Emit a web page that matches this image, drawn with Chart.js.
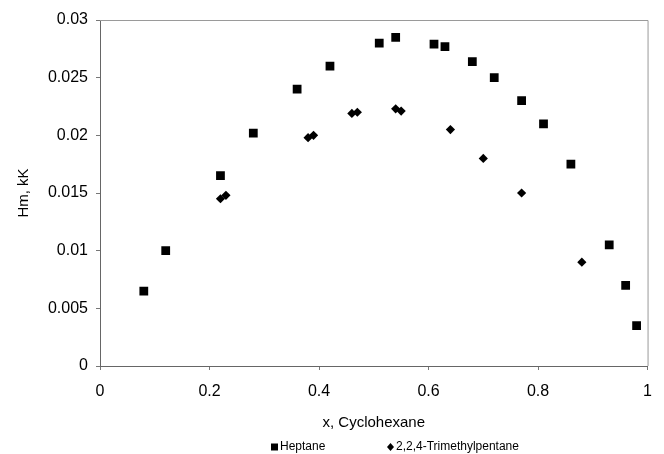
<!DOCTYPE html>
<html>
<head>
<meta charset="utf-8">
<script src="https://cdn.jsdelivr.net/npm/chart.js@4.4.1/dist/chart.umd.min.js"></script>
<style>
  html, body { margin: 0; padding: 0; background: #fff; }
  #wrap { width: 664px; height: 454px; }
</style>
</head>
<body>
<div id="wrap"><canvas id="myChart" width="664" height="454"></canvas></div>
<script>
// mole fraction of cyclohexane
const heptaneX = [0.08, 0.12, 0.22, 0.28, 0.36, 0.42, 0.51, 0.54, 0.61, 0.63, 0.68, 0.72, 0.77, 0.81, 0.86, 0.93, 0.96, 0.98];
const heptaneY = [0.0065, 0.0100, 0.0165, 0.0202, 0.0240, 0.0260, 0.0280, 0.0285, 0.0279, 0.0277, 0.0264, 0.0250, 0.0230, 0.0210, 0.0175, 0.0105, 0.0070, 0.0035];
const tmpX = [0.22, 0.23, 0.38, 0.39, 0.46, 0.47, 0.54, 0.55, 0.64, 0.70, 0.77, 0.88];
const tmpY = [0.0145, 0.0148, 0.0198, 0.0200, 0.0219, 0.0220, 0.0223, 0.0221, 0.0205, 0.0180, 0.0150, 0.0090];

const xTicks = ["0", "0.2", "0.4", "0.6", "0.8", "1"];
const yTicks = ["0", "0.005", "0.01", "0.015", "0.02", "0.025", "0.03"];
const seriesNames = ["Heptane", "2,2,4-Trimethylpentane"];

function pares(xs, ys) {
  return xs.map((x, i) => ({ x: x, y: ys[i] }));
}

const fuente = "'Liberation Sans', Arial, sans-serif";

// marco gris alrededor del area y leyenda abajo
const marco = {
  id: 'marco',
  afterDraw(chart) {
    const ctx = chart.ctx;
    const a = chart.chartArea;
    ctx.save();
    ctx.strokeStyle = '#9a9a9a';
    ctx.lineWidth = 1;
    ctx.beginPath();
    ctx.moveTo(a.left, a.top + 0.5);
    ctx.lineTo(a.right + 0.5, a.top + 0.5);
    ctx.lineTo(a.right + 0.5, a.bottom);
    ctx.stroke();

    // leyenda
    const yLeg = 447;
    const posX = [271, 387];
    ctx.font = '12px ' + fuente;
    ctx.fillStyle = '#000';
    ctx.textBaseline = 'middle';
    chart.data.datasets.forEach((ds, i) => {
      const x = posX[i];
      ctx.beginPath();
      if (ds.pointStyle === 'rect') {
        ctx.rect(x, yLeg - 3.5, 7, 7);
      } else {
        ctx.moveTo(x, yLeg);
        ctx.lineTo(x + 3.5, yLeg - 4);
        ctx.lineTo(x + 7, yLeg);
        ctx.lineTo(x + 3.5, yLeg + 4);
        ctx.closePath();
      }
      ctx.fill();
      ctx.fillText(ds.label, x + 9, yLeg);
    });
    ctx.restore();
  }
};

new Chart("myChart", {
  type: "scatter",
  data: {
    datasets: [{
      label: seriesNames[0],
      data: pares(heptaneX, heptaneY),
      pointStyle: 'rect',
      pointRadius: 6.2,
      pointHoverRadius: 6.2,
      backgroundColor: '#000',
      borderWidth: 0
    }, {
      label: seriesNames[1],
      data: pares(tmpX, tmpY),
      pointStyle: 'rectRot',
      pointRadius: 4.6,
      pointHoverRadius: 4.6,
      backgroundColor: '#000',
      borderWidth: 0
    }]
  },
  options: {
    responsive: false,
    animation: false,
    layout: { padding: { top: 20, right: 12, bottom: 22, left: 0 } },
    plugins: {
      legend: { display: false },
      tooltip: { enabled: false }
    },
    scales: {
      x: {
        type: 'linear',
        min: 0,
        max: 1,
        afterBuildTicks: (s) => { s.ticks = xTicks.map(t => ({ value: parseFloat(t) })); },
        afterFit: (s) => { s.height = 66; },
        ticks: {
          padding: 12,
          color: '#000',
          font: { size: 16, family: fuente },
          maxRotation: 0,
          callback: (v, i) => xTicks[i]
        },
        grid: { drawOnChartArea: false, drawTicks: true, tickLength: 4, color: '#777' },
        border: { color: '#666', width: 1 },
        title: {
          display: true,
          text: 'x, Cyclohexane',
          color: '#000',
          font: { size: 15, family: fuente },
          padding: { top: 0, bottom: 0 }
        }
      },
      y: {
        type: 'linear',
        min: 0,
        max: 0.03,
        afterBuildTicks: (s) => { s.ticks = yTicks.map(t => ({ value: parseFloat(t) })); },
        afterFit: (s) => { s.width = 100; },
        ticks: {
          padding: 8,
          color: '#000',
          font: { size: 16, family: fuente },
          callback: (v, i) => yTicks[i]
        },
        grid: { drawOnChartArea: false, drawTicks: true, tickLength: 4, color: '#777' },
        border: { color: '#666', width: 1 },
        title: {
          display: true,
          text: 'Hm, kK',
          color: '#000',
          font: { size: 15, family: fuente },
          padding: { top: 15, bottom: 0 }
        }
      }
    }
  },
  plugins: [marco]
});
</script>
</body>
</html>
